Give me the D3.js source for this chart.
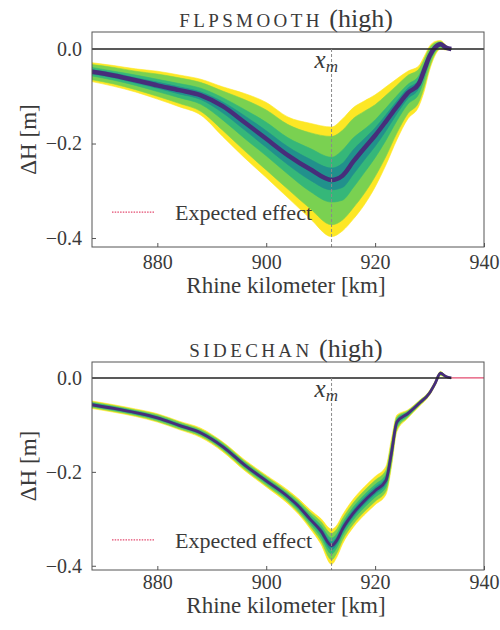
<!DOCTYPE html>
<html><head><meta charset="utf-8">
<script src="https://cdn.jsdelivr.net/npm/d3@7"></script>
<style>
body{margin:0;background:#fff}
svg{display:block}
text{font-family:"Liberation Serif","DejaVu Serif",serif;fill:#3a3a3a}
</style>
</head><body>
<svg id="c" width="500" height="630"></svg>
<script>
// ---------- data: top panel (FLPSMOOTH) ----------
const kmTop  = [868,872,876,880,884,888,892,896,900,904,908,912,914,916,918,920,922,924,926,928,929,930,931,932,933,934];
const medTop = [-0.048,-0.056,-0.066,-0.077,-0.087,-0.098,-0.121,-0.155,-0.190,-0.225,-0.254,-0.277,-0.268,-0.238,-0.210,-0.183,-0.153,-0.122,-0.093,-0.074,-0.045,-0.015,0.003,0.010,0.003,0];
const hiYTop = [-0.029,-0.035,-0.042,-0.047,-0.055,-0.064,-0.080,-0.094,-0.113,-0.144,-0.157,-0.165,-0.148,-0.124,-0.110,-0.097,-0.080,-0.063,-0.047,-0.036,-0.016,0.006,0.016,0.018,0.008,0];
const loYTop = [-0.069,-0.079,-0.091,-0.106,-0.122,-0.140,-0.185,-0.230,-0.272,-0.315,-0.358,-0.397,-0.385,-0.360,-0.330,-0.292,-0.245,-0.192,-0.148,-0.122,-0.090,-0.045,-0.014,0.000,-0.002,0];
const hiLTop = [-0.033,-0.039,-0.047,-0.053,-0.061,-0.071,-0.089,-0.107,-0.129,-0.160,-0.177,-0.185,-0.172,-0.147,-0.132,-0.118,-0.098,-0.077,-0.056,-0.043,-0.022,0.002,0.013,0.016,0.007,0];
const loLTop = [-0.065,-0.074,-0.086,-0.100,-0.115,-0.132,-0.172,-0.215,-0.256,-0.297,-0.337,-0.372,-0.362,-0.336,-0.306,-0.270,-0.227,-0.178,-0.137,-0.113,-0.081,-0.039,-0.010,0.002,-0.001,0];
const hiGTop = [-0.039,-0.047,-0.055,-0.064,-0.073,-0.083,-0.103,-0.128,-0.155,-0.188,-0.210,-0.229,-0.214,-0.188,-0.170,-0.150,-0.125,-0.099,-0.075,-0.057,-0.032,-0.006,0.009,0.014,0.005,0];
const loGTop = [-0.057,-0.066,-0.077,-0.090,-0.103,-0.117,-0.150,-0.189,-0.226,-0.265,-0.301,-0.324,-0.320,-0.293,-0.262,-0.230,-0.193,-0.152,-0.117,-0.096,-0.065,-0.028,-0.005,0.005,0.001,0];
const hiTTop = [-0.044,-0.051,-0.061,-0.070,-0.080,-0.091,-0.112,-0.141,-0.173,-0.207,-0.233,-0.252,-0.242,-0.213,-0.190,-0.167,-0.139,-0.110,-0.083,-0.066,-0.039,-0.010,0.006,0.012,0.004,0];
const loTTop = [-0.053,-0.061,-0.072,-0.083,-0.095,-0.107,-0.135,-0.171,-0.208,-0.245,-0.277,-0.298,-0.293,-0.265,-0.235,-0.206,-0.173,-0.137,-0.105,-0.084,-0.055,-0.022,-0.001,0.008,0.002,0];

// ---------- data: bottom panel (SIDECHAN) ----------
const kmBot  = [868,872,876,880,884,888,892,896,900,904,906,908,910,912,913,914,916,918,920,922,923,924,926,928,930,931,932,933,934];
const medBot = [-0.057,-0.065,-0.074,-0.085,-0.101,-0.117,-0.146,-0.185,-0.219,-0.253,-0.274,-0.300,-0.325,-0.357,-0.345,-0.322,-0.288,-0.262,-0.240,-0.218,-0.160,-0.094,-0.076,-0.055,-0.032,-0.012,0.010,0.003,0];
const hiYBot = [-0.049,-0.057,-0.066,-0.076,-0.092,-0.107,-0.136,-0.174,-0.207,-0.239,-0.258,-0.280,-0.299,-0.322,-0.313,-0.292,-0.258,-0.232,-0.210,-0.188,-0.130,-0.079,-0.068,-0.049,-0.027,-0.007,0.014,0.005,0];
const loYBot = [-0.065,-0.073,-0.082,-0.094,-0.110,-0.127,-0.157,-0.197,-0.232,-0.268,-0.291,-0.320,-0.353,-0.397,-0.381,-0.354,-0.318,-0.292,-0.270,-0.248,-0.190,-0.114,-0.086,-0.062,-0.037,-0.017,0.005,0.001,0];
const hiLBot = [-0.051,-0.059,-0.068,-0.078,-0.094,-0.110,-0.138,-0.177,-0.210,-0.243,-0.262,-0.285,-0.305,-0.331,-0.321,-0.300,-0.266,-0.240,-0.218,-0.196,-0.138,-0.083,-0.070,-0.050,-0.028,-0.008,0.013,0.0045,0];
const loLBot = [-0.063,-0.071,-0.080,-0.092,-0.108,-0.124,-0.154,-0.194,-0.229,-0.264,-0.287,-0.315,-0.346,-0.387,-0.372,-0.346,-0.311,-0.285,-0.263,-0.241,-0.183,-0.109,-0.084,-0.060,-0.036,-0.016,0.006,0.0015,0];
const hiGBot = [-0.053,-0.061,-0.070,-0.081,-0.097,-0.113,-0.141,-0.180,-0.214,-0.247,-0.267,-0.291,-0.313,-0.341,-0.331,-0.309,-0.275,-0.249,-0.227,-0.205,-0.147,-0.087,-0.072,-0.052,-0.030,-0.010,0.012,0.004,0];
const loGBot = [-0.061,-0.069,-0.078,-0.089,-0.105,-0.121,-0.151,-0.190,-0.225,-0.260,-0.282,-0.309,-0.338,-0.375,-0.361,-0.336,-0.302,-0.276,-0.254,-0.232,-0.174,-0.103,-0.081,-0.058,-0.034,-0.014,0.008,0.002,0];
const hiTBot = [-0.055,-0.063,-0.072,-0.083,-0.099,-0.115,-0.144,-0.183,-0.216,-0.250,-0.270,-0.296,-0.319,-0.349,-0.338,-0.315,-0.281,-0.255,-0.233,-0.211,-0.153,-0.091,-0.074,-0.054,-0.031,-0.011,0.011,0.003,0];
const loTBot = [-0.059,-0.067,-0.076,-0.087,-0.103,-0.119,-0.148,-0.188,-0.222,-0.256,-0.278,-0.304,-0.331,-0.366,-0.353,-0.329,-0.295,-0.269,-0.247,-0.225,-0.167,-0.098,-0.078,-0.057,-0.033,-0.013,0.009,0.003,0];

// ---------- axes / labels ----------
const xTicks = [880, 900, 920, 940];
const yTicks = [0, -0.2, -0.4];
const xDomain = [868, 940];
const xM = 912;
const titles = [["FLPSMOOTH", " (high)"], ["SIDECHAN", " (high)"]];
const xLabel = "Rhine kilometer [km]";
const yLabel = "ΔH [m]";
const legendLabel = "Expected effect";

const colY = "#fde725", colL = "#7ad151", colG = "#35b779", colT = "#21918c", colM = "#472d7b";

const svg = d3.select("#c");
const x = d3.scaleLinear().domain(xDomain).range([92, 484]);
const FONT = "Liberation Serif, DejaVu Serif, serif";

function panel(p) {
  const y = d3.scaleLinear().domain(p.yDomain).range([p.bottom, p.top]);
  const g = svg.append("g");
  const clipId = "clip" + p.id;
  svg.append("clipPath").attr("id", clipId).append("rect")
    .attr("x", x.range()[0]).attr("y", p.top)
    .attr("width", x.range()[1] - x.range()[0]).attr("height", p.bottom - p.top);

  const plot = g.append("g").attr("clip-path", `url(#${clipId})`);
  const idx = d3.range(p.km.length);
  const bands = [[p.loY, p.hiY, colY], [p.loL, p.hiL, colL], [p.loG, p.hiG, colG], [p.loT, p.hiT, colT]];
  bands.forEach(([lo, hi, c]) => {
    plot.append("path")
      .attr("d", d3.area().curve(d3.curveMonotoneX).x(i => x(p.km[i])).y0(i => y(lo[i])).y1(i => y(hi[i]))(idx))
      .attr("fill", c).attr("stroke", c).attr("stroke-width", 0.6);
  });
  plot.append("path")
    .attr("d", d3.line().curve(d3.curveMonotoneX).x(i => x(p.km[i])).y(i => y(p.med[i]))(idx))
    .attr("fill", "none").attr("stroke", colM).attr("stroke-width", p.medW)
    .attr("stroke-linejoin", "round");

  // zero line
  const lastKm = p.km[p.km.length - 1];
  plot.append("line").attr("x1", x(xDomain[0])).attr("x2", p.redTail ? x(lastKm) : x(xDomain[1]))
    .attr("y1", y(0)).attr("y2", y(0)).attr("stroke", "#222").attr("stroke-width", 1.4);
  if (p.redTail) {
    plot.append("line").attr("x1", x(lastKm)).attr("x2", x(xDomain[1]))
      .attr("y1", y(0)).attr("y2", y(0)).attr("stroke", "#e34a6f").attr("stroke-width", 1.2);
  }
  // x_m dashed
  plot.append("line").attr("x1", x(xM)).attr("x2", x(xM))
    .attr("y1", y(0)).attr("y2", p.bottom)
    .attr("stroke", "#8a8a8a").attr("stroke-width", 1).attr("stroke-dasharray", "3,2");

  // axes
  const ax = g.append("g").attr("transform", `translate(0,${p.bottom})`)
    .call(d3.axisBottom(x).tickValues(xTicks).tickSize(-4).tickPadding(p.xPad).tickFormat(d3.format("d")));
  const ay = g.append("g").attr("transform", `translate(${x.range()[0]},0)`)
    .call(d3.axisLeft(y).tickValues(yTicks).tickSize(-4).tickPadding(10).tickFormat(d3.format(".1f")));
  [ax, ay].forEach(a => {
    a.select(".domain").remove();
    a.selectAll("line").attr("stroke", "#555");
    a.selectAll("text").attr("font-family", FONT).attr("font-size", 20).attr("fill", "#3a3a3a");
  });
  g.append("rect").attr("x", x.range()[0]).attr("y", p.top)
    .attr("width", x.range()[1] - x.range()[0]).attr("height", p.bottom - p.top)
    .attr("fill", "none").attr("stroke", "#555").attr("stroke-width", 1);

  // x_m label
  const xl = g.append("text").attr("x", x(xM) - 17).attr("y", y(0) + 19).attr("font-style", "italic").attr("font-size", 25);
  xl.append("tspan").text("x");
  xl.append("tspan").attr("font-size", 17).attr("dy", 4).text("m");

  // title (small caps rendered as reduced capitals)
  const t = g.append("text").attr("x", 286).attr("y", p.top - 5).attr("text-anchor", "middle").attr("font-size", 26);
  t.append("tspan").attr("font-size", 19).attr("letter-spacing", 3.4).text(p.title[0]);
  t.append("tspan").text(p.title[1]);

  // axis labels
  g.append("text").attr("x", 286).attr("y", p.bottom + p.xLabOff).attr("text-anchor", "middle").attr("font-size", 23).text(xLabel);
  g.append("text").attr("transform", `translate(36,${(p.top + p.bottom) / 2}) rotate(-90)`)
    .attr("text-anchor", "middle").attr("font-size", 23).text(yLabel);

  // legend
  const ly = y(p.legendY);
  g.append("line").attr("x1", 112).attr("x2", 155).attr("y1", ly).attr("y2", ly)
    .attr("stroke", "#e34a6f").attr("stroke-width", 1.3).attr("stroke-dasharray", "1.5,1.2");
  g.append("text").attr("x", 175).attr("y", ly + 8).attr("font-size", 22).text(legendLabel);
}

panel({id: "a", top: 32, bottom: 247, yDomain: [-0.419, 0.036], title: titles[0],
  km: kmTop, med: medTop, hiY: hiYTop, loY: loYTop, hiL: hiLTop, loL: loLTop, hiG: hiGTop, loG: loGTop, hiT: hiTTop, loT: loTTop,
  medW: 4.5, redTail: false, legendY: -0.345, xPad: 8, xLabOff: 46});
panel({id: "b", top: 362, bottom: 570, yDomain: [-0.409, 0.034], title: titles[1],
  km: kmBot, med: medBot, hiY: hiYBot, loY: loYBot, hiL: hiLBot, loL: loLBot, hiG: hiGBot, loG: loGBot, hiT: hiTBot, loT: loTBot,
  medW: 2.8, redTail: true, legendY: -0.345, xPad: 5, xLabOff: 43});
</script>
</body></html>
